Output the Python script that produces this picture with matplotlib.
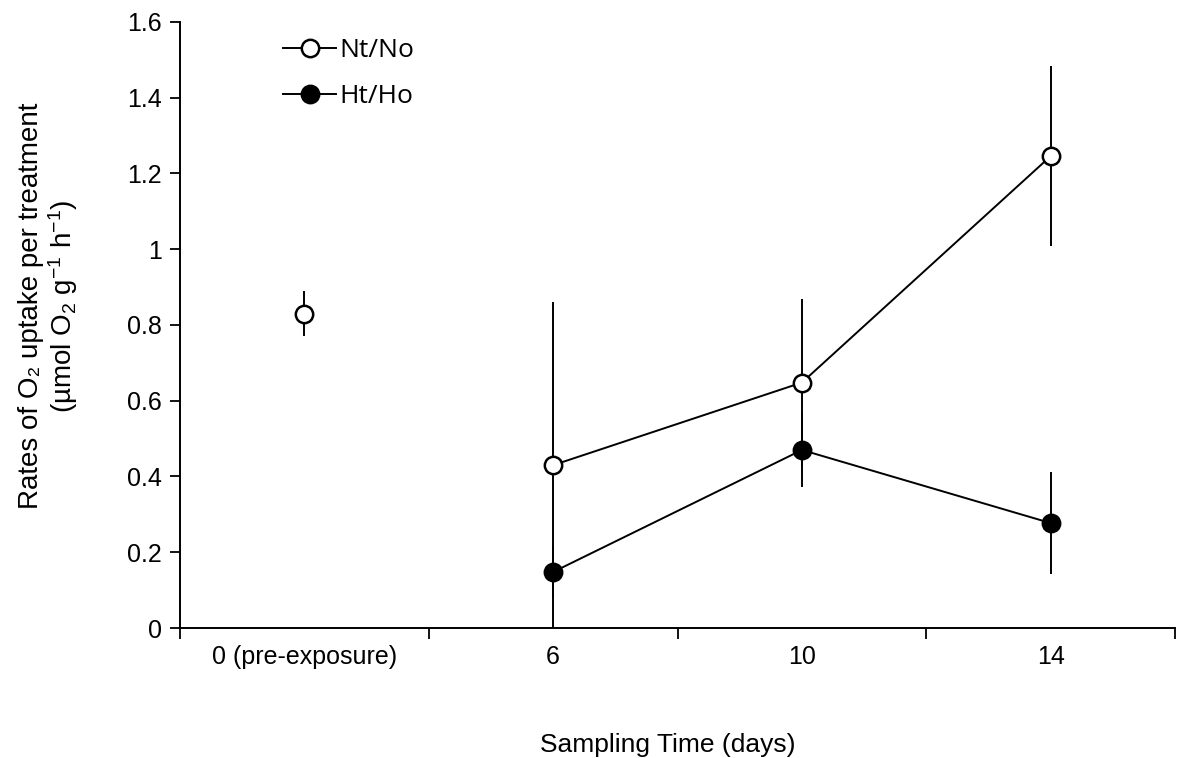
import numpy as np
import matplotlib
matplotlib.use("Agg")
import matplotlib.pyplot as plt
from matplotlib.lines import Line2D

plt.rcParams['font.family'] = ['Liberation Sans', 'DejaVu Sans']
plt.rcParams['mathtext.fontset'] = 'custom'
plt.rcParams['mathtext.rm'] = 'Liberation Sans'
plt.rcParams['mathtext.it'] = 'Liberation Sans:italic'

# data
categories = ['0 (pre-exposure)', '6', '10', '14']
nt_no = [0.83, 0.43, 0.648, 1.246]
nt_no_err = [0.06, 0.43, 0.22, 0.237]
ht_ho = [np.nan, 0.148, 0.47, 0.277]
ht_ho_err = [np.nan, 0.07, 0.097, 0.135]

x = np.arange(len(categories)) + 0.5

fig = plt.figure(figsize=(11.89, 7.58), dpi=100)
ax = fig.add_axes([0.1514, 0.1715, 0.8369, 0.7995])

lw = 1.4
ms = 12.5
mew = 1.8

# Ht/Ho (filled)
ax.errorbar(x, ht_ho, yerr=ht_ho_err, fmt='none', ecolor='black', elinewidth=lw, zorder=2)
ax.plot(x[1:], ht_ho[1:], color='black', lw=lw, marker='o', ms=ms, mfc='black',
        mec='black', mew=mew, zorder=4)

# Nt/No (open) - pre-exposure point is not joined
ax.errorbar(x, nt_no, yerr=nt_no_err, fmt='none', ecolor='black', elinewidth=lw, zorder=1)
ax.plot(x[1:], nt_no[1:], color='black', lw=lw, zorder=3)
ax.plot(x, nt_no, ls='none', marker='o', ms=ms, mfc='white', mec='black', mew=mew, zorder=5)

ax.set_xlim(0, 4)
ax.set_ylim(0, 1.6)
ax.set_yticks(np.arange(0, 1.61, 0.2))
ax.set_yticklabels(['0', '0.2', '0.4', '0.6', '0.8', '1', '1.2', '1.4', '1.6'], fontsize=18)

ax.set_xticks([0, 1, 2, 3, 4])
ax.set_xticklabels([])
ax.set_xticks(x, minor=True)
ax.set_xticklabels(categories, minor=True, fontsize=18)
ax.tick_params(axis='x', which='minor', length=0, pad=12)
ax.tick_params(axis='x', which='major', direction='out', length=8, width=1.3)
ax.tick_params(axis='y', direction='out', length=7, width=1.3, pad=6)

for side in ['top', 'right']:
    ax.spines[side].set_visible(False)
for side in ['left', 'bottom']:
    ax.spines[side].set_linewidth(1.4)

ax.set_xlabel('Sampling Time (days)', fontsize=19)
ax.xaxis.set_label_coords(0.49, (628 - 745) / 606)
ax.xaxis.label.set_va('center')

fig.text(49 / 1189, 1 - 306 / 758,
         'Rates of O\u2082 uptake per treatment\n(\u00b5mol O$_2$ g$^{-1}$ h$^{-1}$)',
         fontsize=20, rotation=90, ha='center', va='center', multialignment='center',
         linespacing=1.05)

handles = [
    Line2D([], [], color='black', lw=lw, marker='o', ms=ms, mfc='white', mec='black', mew=mew),
    Line2D([], [], color='black', lw=lw, marker='o', ms=ms, mfc='black', mec='black', mew=mew),
]
ax.legend(handles, ['Nt/No', 'Ht/Ho'], loc='upper left', bbox_to_anchor=(0.080, 1.013),
          frameon=False, handlelength=2.0, handletextpad=0.12, labelspacing=0.8,
          prop={'family': ['Open Sans', 'DejaVu Sans'], 'size': 19})

fig.savefig('out.png', dpi=100)
